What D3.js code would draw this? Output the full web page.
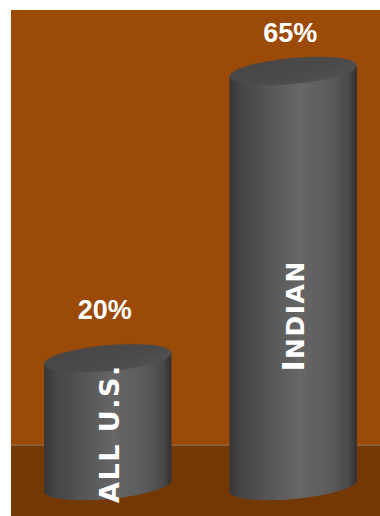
<!DOCTYPE html>
<html><head><meta charset="utf-8">
<script src="https://cdn.jsdelivr.net/npm/d3@7"></script>
<style>html,body{margin:0;padding:0;background:#fff;overflow:hidden}</style>
</head><body>
<svg id="c" width="380" height="516"></svg>
<script>
const categories = ["ALL U.S.", "Indian"];
const values = [20, 65];
const valueLabels = ["20%", "65%"];

const W = 380, H = 516;
const svg = d3.select("#c");
const defs = svg.append("defs");

const bodyGrad = defs.append("linearGradient").attr("id", "bodyG").attr("x1", 0).attr("x2", 1).attr("y1", 0).attr("y2", 0);
[[0, "#353535"], [0.08, "#444"], [0.3, "#555"], [0.55, "#676767"], [0.8, "#5a5a5a"], [0.93, "#4a4a4a"], [1, "#303030"]]
  .forEach(([o, c]) => bodyGrad.append("stop").attr("offset", o).attr("stop-color", c));
const topGrad = defs.append("linearGradient").attr("id", "topG").attr("x1", 0).attr("x2", 1).attr("y1", 0).attr("y2", 1);
[[0, "#444"], [0.6, "#4b4b4b"], [1, "#535353"]]
  .forEach(([o, c]) => topGrad.append("stop").attr("offset", o).attr("stop-color", c));
defs.append("filter").attr("id", "soft").append("feGaussianBlur").attr("stdDeviation", 0.7);

// background wall + floor
svg.append("rect").attr("x", 11).attr("y", 10).attr("width", W - 11).attr("height", H - 10).attr("fill", "#9b4a07");
svg.append("rect").attr("x", 11).attr("y", 446).attr("width", W - 11).attr("height", H - 446).attr("fill", "#743805");
svg.append("rect").attr("x", 11).attr("y", 444.5).attr("width", W - 11).attr("height", 1.5).attr("fill", "#8c6444");

const x = d3.scaleBand().domain(categories).range([16, 385]).paddingInner(0.31).paddingOuter(0.15);
const y = d3.scaleLinear().domain([0, 65]).range([486, 71]);

const ry = 13, ang = -5.2 * Math.PI / 180;
const data = categories.map((c, i) => ({c, v: values[i], lab: valueLabels[i]}));

const g = svg.selectAll("g.cyl").data(data).join("g").attr("class", "cyl");

g.each(function(d) {
  const sel = d3.select(this);
  const rx = x.bandwidth() / 2;
  const cx = x(d.c) + rx;
  const yt = y(d.v), yb = y(0);
  const dx = rx * Math.cos(ang), dy = rx * Math.sin(ang);
  const deg = ang * 180 / Math.PI;
  const p = `M${cx - dx},${yt - dy} L${cx - dx},${yb - dy} A${rx},${ry} ${deg} 0 0 ${cx + dx},${yb + dy} L${cx + dx},${yt + dy} Z`;
  sel.append("path").attr("d", p).attr("fill", "url(#bodyG)").attr("filter", "url(#soft)");
  sel.append("ellipse").attr("cx", cx).attr("cy", yt).attr("rx", rx).attr("ry", ry)
    .attr("transform", `rotate(${deg},${cx},${yt})`).attr("fill", "url(#topG)").attr("filter", "url(#soft)");

  // value label
  const ly = Math.max(yt - 39, 42);
  sel.append("text").attr("x", cx - 3).attr("y", ly).attr("text-anchor", "middle")
    .attr("font-family", "'Liberation Sans', Arial, sans-serif").attr("font-weight", "bold")
    .attr("font-size", 27).attr("fill", "#fff").text(d.lab);

  // category label (vertical, small caps)
  const mid = yb - 0.41 * (yb - yt);
  const t = sel.append("text").attr("transform", `translate(${cx + 11},${mid}) rotate(-90)`)
    .attr("text-anchor", "middle").attr("font-family", "'DejaVu Sans', Verdana, sans-serif")
    .attr("font-weight", "bold").attr("fill", "#fff").attr("letter-spacing", 1.5);
  for (const ch of d.c) {
    const lower = ch !== ch.toUpperCase();
    t.append("tspan").attr("font-size", lower ? 25 : (d.c === d.c.toUpperCase() ? 27 : 30)).text(ch.toUpperCase());
  }
});
</script>
</body></html>
